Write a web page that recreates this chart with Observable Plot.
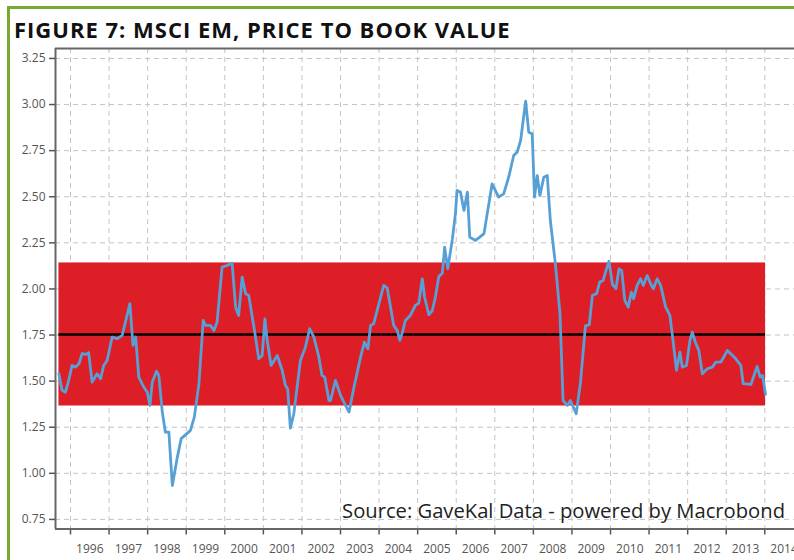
<!DOCTYPE html>
<html>
<head>
<meta charset="utf-8">
<script src="https://cdn.jsdelivr.net/npm/d3@7"></script>
<script src="https://cdn.jsdelivr.net/npm/@observablehq/plot@0.6"></script>
<style>
  body { margin: 0; background: #fff; }
  #wrap { position: relative; width: 794px; height: 560px; overflow: hidden; font-family: "Open Sans", sans-serif; }
  #border { position: absolute; left: 7px; top: 6px; width: 820px; height: 600px; border-left: 3px solid #7aa933; border-top: 3px solid #7aa933; }
  #title { position: absolute; left: 14px; top: 13.5px; font-weight: 700; font-size: 22px; letter-spacing: 1px; color: #111; white-space: nowrap; }
  #chart { position: absolute; left: 0; top: 44px; }
  #source { position: absolute; right: 9px; top: 495.5px; font-size: 20.2px; color: #222; white-space: nowrap; }
</style>
</head>
<body>
<div id="wrap">
  <div id="border"></div>
  <div id="title">FIGURE 7: MSCI EM, PRICE TO BOOK VALUE</div>
  <div id="chart"></div>
  <div id="source">Source: GaveKal Data - powered by Macrobond</div>
</div>
<script>
// Dates as decimal years, values = MSCI EM price-to-book ratio
const dates = [
  1995.70,1995.78,1995.87,1995.96,1996.04,1996.13,1996.22,1996.30,1996.40,1996.47,
  1996.56,1996.69,1996.78,1996.86,1996.95,1997.08,1997.21,1997.34,1997.54,1997.62,
  1997.69,1997.77,1997.90,1997.99,1998.06,1998.12,1998.23,1998.29,1998.38,1998.46,
  1998.55,1998.64,1998.77,1998.87,1999.11,1999.21,1999.33,1999.44,1999.50,1999.63,
  1999.72,1999.80,1999.93,2000.06,2000.19,2000.28,2000.36,2000.45,2000.54,2000.62,
  2000.77,2000.88,2000.97,2001.04,2001.10,2001.20,2001.36,2001.49,2001.57,2001.63,
  2001.70,2001.79,2001.96,2002.09,2002.20,2002.31,2002.44,2002.52,2002.59,2002.70,
  2002.74,2002.87,2003.00,2003.13,2003.22,2003.35,2003.52,2003.62,2003.71,2003.78,
  2003.86,2004.04,2004.12,2004.21,2004.38,2004.47,2004.54,2004.62,2004.68,2004.81,
  2004.94,2005.03,2005.12,2005.18,2005.29,2005.38,2005.46,2005.55,2005.64,2005.70,
  2005.78,2005.90,2005.98,2006.02,2006.11,2006.20,2006.29,2006.35,2006.50,2006.61,
  2006.72,2006.93,2007.10,2007.23,2007.36,2007.49,2007.58,2007.67,2007.80,2007.88,
  2007.97,2008.03,2008.10,2008.17,2008.27,2008.36,2008.44,2008.57,2008.69,2008.77,
  2008.88,2008.96,2009.11,2009.22,2009.35,2009.45,2009.53,2009.64,2009.72,2009.81,
  2009.87,2009.96,2010.05,2010.14,2010.22,2010.29,2010.37,2010.46,2010.54,2010.60,
  2010.69,2010.78,2010.85,2010.95,2011.04,2011.11,2011.21,2011.30,2011.43,2011.54,
  2011.62,2011.71,2011.80,2011.86,2011.97,2012.06,2012.12,2012.20,2012.29,2012.38,
  2012.51,2012.64,2012.73,2012.86,2013.03,2013.21,2013.38,2013.44,2013.64,2013.80,
  2013.88,2013.94,2014.02
];
const pbValues = [
  1.54,1.45,1.44,1.51,1.585,1.576,1.594,1.649,1.645,1.655,
  1.495,1.54,1.513,1.585,1.612,1.739,1.73,1.748,1.92,1.694,
  1.739,1.522,1.468,1.44,1.368,1.495,1.554,1.531,1.332,1.223,
  1.223,0.934,1.088,1.188,1.233,1.305,1.486,1.829,1.802,1.802,
  1.775,1.82,2.118,2.127,2.14,1.901,1.856,2.064,1.974,1.965,
  1.775,1.621,1.639,1.838,1.721,1.585,1.639,1.558,1.477,1.459,
  1.245,1.323,1.612,1.684,1.784,1.739,1.63,1.531,1.522,1.395,
  1.395,1.504,1.423,1.368,1.332,1.468,1.63,1.711,1.675,1.802,
  1.811,1.956,2.019,2.006,1.802,1.775,1.721,1.775,1.829,1.856,
  1.911,1.923,2.055,1.956,1.86,1.883,1.956,2.068,2.085,2.227,
  2.109,2.27,2.41,2.534,2.525,2.426,2.525,2.281,2.263,2.281,
  2.30,2.57,2.498,2.516,2.606,2.724,2.742,2.805,3.018,2.85,
  2.841,2.498,2.615,2.507,2.606,2.615,2.371,2.137,1.866,1.395,
  1.368,1.395,1.323,1.49,1.80,1.806,1.965,1.974,2.037,2.046,
  2.091,2.15,2.025,2.001,2.109,2.10,1.938,1.901,1.983,1.947,
  2.019,2.055,2.019,2.073,2.028,2.001,2.055,2.019,1.901,1.856,
  1.721,1.558,1.657,1.576,1.585,1.721,1.766,1.711,1.666,1.54,
  1.567,1.576,1.603,1.603,1.666,1.63,1.585,1.486,1.482,1.58,
  1.522,1.531,1.428
];
const meanValue = 1.753;
const bandLow = 1.365;
const bandHigh = 2.141;
const yTicks = [0.75,1.00,1.25,1.50,1.75,2.00,2.25,2.50,2.75,3.00,3.25];
const yearTicks = [1996,1997,1998,1999,2000,2001,2002,2003,2004,2005,2006,2007,2008,2009,2010,2011,2012,2013,2014];

const data = dates.map((d, i) => ({date: d, value: pbValues[i]}));
const xStart = dates[0], xEnd = dates[dates.length - 1];
const xMin = 1995.611, xMax = 2014.77, yMin = 0.698, yMax = 3.304;
const labelPos = yearTicks.map(y => y + 0.5);

const chart = Plot.plot({
  width: 794,
  height: 516,
  marginLeft: 55,
  marginRight: 0,
  marginTop: 4,
  marginBottom: 31.5,
  x: {domain: [xMin, xMax]},
  y: {domain: [yMin, yMax]},
  style: {fontFamily: "Open Sans, sans-serif", fontSize: "12px", color: "#555", background: "transparent", overflow: "visible"},
  marks: [
    Plot.gridY(yTicks, {stroke: "#c4c4c4", strokeOpacity: 1, strokeDasharray: "5,4", strokeWidth: 1}),
    Plot.gridX(yearTicks, {stroke: "#c4c4c4", strokeOpacity: 1, strokeDasharray: "5,4", strokeWidth: 1}),
    Plot.rect([{a: xStart, b: xEnd, lo: bandLow, hi: bandHigh}], {x1: "a", x2: "b", y1: "lo", y2: "hi", fill: "#de1e27"}),
    Plot.ruleY([meanValue], {x1: xStart, x2: xEnd, stroke: "#000", strokeWidth: 2.6}),
    Plot.line(data, {x: "date", y: "value", stroke: "#57a0d6", strokeWidth: 2.8, strokeLinejoin: "round"}),
    Plot.axisY(yTicks, {tickFormat: d3.format(".2f"), tickSize: 6, tickPadding: 4, stroke: "#555", strokeWidth: 1.5, fill: "#555"}),
    Plot.axisX(yearTicks, {tickFormat: () => "", tickSize: 6, stroke: "#555", strokeWidth: 1.5}),
    Plot.axisX(labelPos, {tickFormat: d => String(Math.floor(d)), tickSize: 0, tickPadding: 15, fill: "#555"}),
    Plot.ruleX([xMin], {stroke: "#666", strokeWidth: 2}),
    Plot.ruleY([yMax], {stroke: "#666", strokeWidth: 2}),
    Plot.ruleY([yMin], {stroke: "#666", strokeWidth: 2})
  ]
});
document.getElementById("chart").appendChild(chart);
</script>
</body>
</html>
